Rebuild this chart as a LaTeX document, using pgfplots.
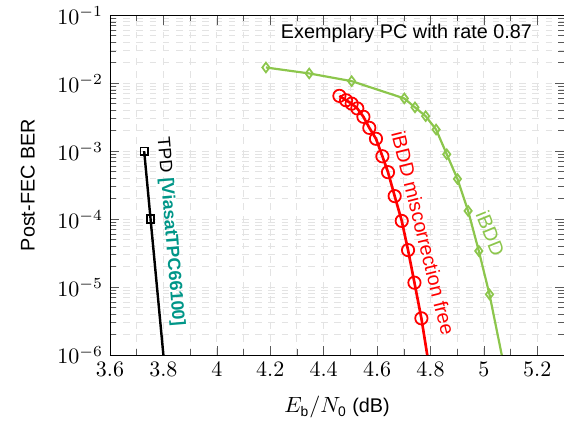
\documentclass[border=0pt]{standalone}
\usepackage{amsmath}
\usepackage{fontspec}
\setmainfont{Liberation Sans}[Scale=0.9]
\usepackage{pgfplots}
\pgfplotsset{compat=1.18}
\definecolor{ibddgreen}{RGB}{140,198,76}
\definecolor{citeteal}{RGB}{0,150,136}
\begin{document}
\begin{tikzpicture}
\begin{axis}[
  width=206.4pt, height=154.5pt, scale only axis,
  xmin=3.6, xmax=5.3, ymin=1e-6, ymax=1e-1, ymode=log,
  xtick={3.6,3.8,4,4.2,4.4,4.6,4.8,5,5.2},
  minor x tick num=1,
  grid=both,
  major grid style={dashed,gray!22},
  minor grid style={dashed,gray!22},
  tick style={gray!70!black},
  xlabel={$E_{\text{b}}/N_{\text{0}}$ (dB)},
  ylabel={Post-FEC BER},
  every axis y label/.append style={yshift=4pt},
  every axis x label/.append style={yshift=-3pt},
]
% TPD
\addplot[black, line width=1.1pt, mark=square, mark size=1.7pt, mark options={solid,fill=white,line width=0.8pt}, mark indices={1,2}]
  coordinates {(3.728,1e-3) (3.752,1e-4) (3.800,1e-6)};
% iBDD miscorrection free
\addplot[red, line width=1.2pt, mark=o, mark size=2.8pt, mark options={solid,fill=white,line width=0.8pt}, mark indices={1,2,3,4,5,6,7,8,9,10,11,12,13,14}]
  coordinates {
  (4.459,6.5e-3) (4.484,5.6e-3) (4.505,5.0e-3) (4.526,4.25e-3) (4.549,3.2e-3)
  (4.571,2.2e-3) (4.596,1.52e-3) (4.620,8.4e-4) (4.641,4.9e-4) (4.666,2.18e-4)
  (4.6925,9.4e-5) (4.716,3.5e-5) (4.740,1.16e-5) (4.766,3.47e-6) (4.788,1e-6)};
% iBDD
\addplot[ibddgreen, line width=1.0pt, mark=diamond, mark size=2.2pt, mark options={solid,fill=white,line width=0.8pt}, mark indices={1,2,3,4,5,6,7,8,9,10,11,12}]
  coordinates {
  (4.184,1.70e-2) (4.346,1.39e-2) (4.505,1.07e-2) (4.702,5.96e-3) (4.742,4.4e-3)
  (4.782,3.27e-3) (4.821,2.08e-3) (4.861,9.0e-4) (4.901,3.9e-4) (4.941,1.32e-4)
  (4.981,3.4e-5) (5.021,7.8e-6) (5.067,1e-6)};
\node at (axis cs:4.71,0.0543) {Exemplary PC with rate 0.87};
\node[rotate=-85.3, font=\small] at (axis cs:3.825,6.5e-5) {TPD \textcolor{citeteal}{\textbf{[ViasatTPC66100]}}};
\node[rotate=-76, red] at (axis cs:4.773,6.2e-5) {iBDD miscorrection free};
\node[rotate=-68, ibddgreen] at (axis cs:5.025,6.2e-5) {iBDD};
\end{axis}
\pgfresetboundingbox
\path[use as bounding box] (-50pt,-32.3pt) rectangle (206.4pt,161.4pt);
\end{tikzpicture}
\end{document}
